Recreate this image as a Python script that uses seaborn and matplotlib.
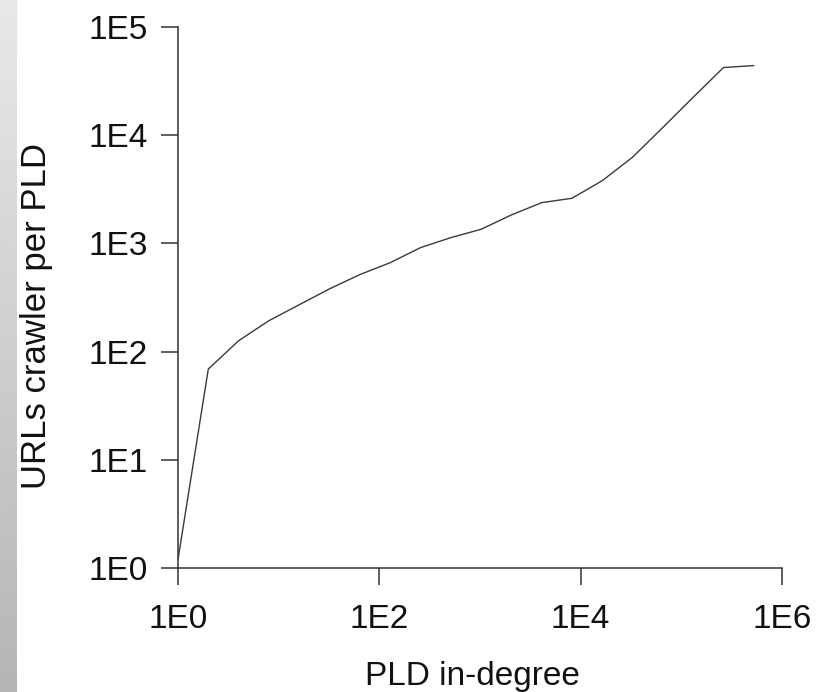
import numpy as np
import pandas as pd
import seaborn as sns
import matplotlib.pyplot as plt

# PLD in-degree (log bins) vs URLs crawled per PLD
in_degree = [1, 2, 4, 8, 16, 32, 64, 128, 256, 512, 1024, 2048, 4096, 8192,
             16384, 32768, 65536, 131072, 262144, 524288]
urls_per_pld = [1.2, 69, 126, 193, 271, 380, 515, 663, 913, 1130, 1350, 1832,
                2380, 2613, 3800, 6260, 11800, 22400, 42200, 44000]

x_ticks = [1, 1e2, 1e4, 1e6]
x_tick_labels = ["1E0", "1E2", "1E4", "1E6"]
y_ticks = [1, 1e1, 1e2, 1e3, 1e4, 1e5]
y_tick_labels = ["1E0", "1E1", "1E2", "1E3", "1E4", "1E5"]

df = pd.DataFrame({"PLD in-degree": in_degree, "URLs crawler per PLD": urls_per_pld})

sns.set_style("ticks")
plt.rcParams['font.family'] = ['Liberation Sans', 'DejaVu Sans']

fig = plt.figure(figsize=(8.17, 6.92), dpi=100)

# gray gradient strip on the left edge
strip = fig.add_axes([0, 0, 17 / 817, 1])
strip.imshow(np.linspace(0.91, 0.71, 256).reshape(-1, 1), aspect="auto", cmap="gray",
             vmin=0, vmax=1, extent=[0, 1, 0, 1])
strip.axis("off")

ax = fig.add_axes([178 / 817, 124 / 692, 604 / 817, 541 / 692])
sns.lineplot(data=df, x="PLD in-degree", y="URLs crawler per PLD", ax=ax,
             color="#3a3a3a", linewidth=1.0)
ax.set_xscale("log")
ax.set_yscale("log")
ax.set_xlim(1, 1e6)
ax.set_ylim(1, 1e5)
ax.set_xticks(x_ticks)
ax.set_xticklabels(x_tick_labels)
ax.set_yticks(y_ticks)
ax.set_yticklabels(y_tick_labels)
ax.minorticks_off()
ax.tick_params(axis="both", length=12, width=1.1, color="#333333",
               labelsize=24, labelcolor="#111111")
ax.tick_params(axis="x", pad=14)
ax.tick_params(axis="y", pad=10)
sns.despine(ax=ax)
for s in ["left", "bottom"]:
    ax.spines[s].set_color("#333333")
    ax.spines[s].set_linewidth(1.1)
ax.set_xlabel("PLD in-degree", fontsize=24, color="#111111")
ax.set_ylabel("URLs crawler per PLD", fontsize=25, color="#111111")
ax.xaxis.set_label_coords(0.488, -0.172)
ax.yaxis.set_label_coords(-0.207, 0.465)

fig.savefig("out.png", dpi=100)
